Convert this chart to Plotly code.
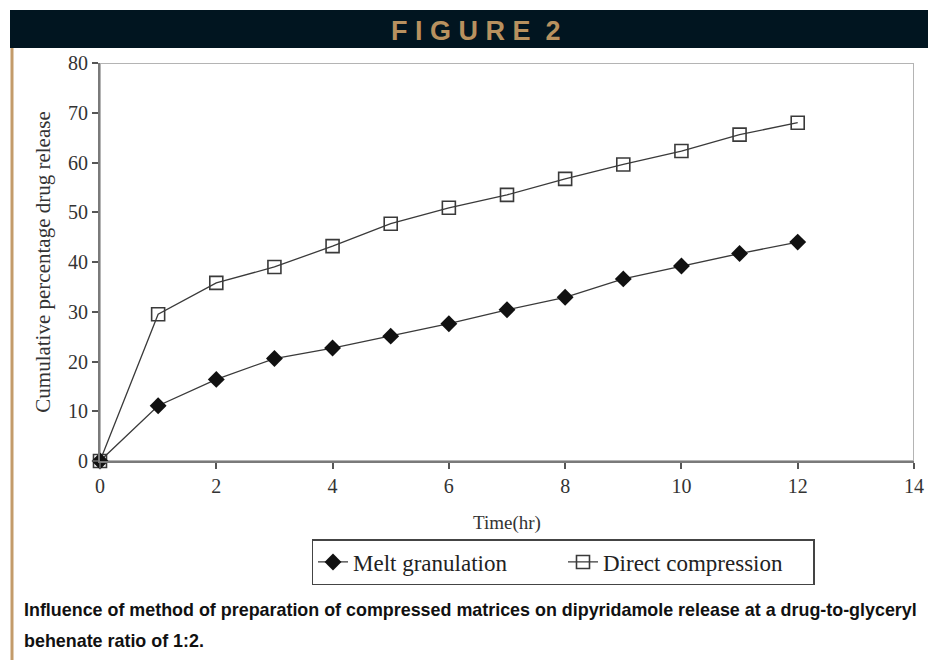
import plotly.graph_objects as go

# Release profile data
time_hr = [0, 1, 2, 3, 4, 5, 6, 7, 8, 9, 10, 11, 12]
melt_granulation = [0, 11.1, 16.4, 20.6, 22.7, 25.1, 27.6, 30.4, 32.9, 36.6, 39.2, 41.7, 44.0]
direct_compression = [0, 29.5, 35.8, 39.0, 43.2, 47.7, 50.9, 53.5, 56.7, 59.6, 62.3, 65.6, 68.0]

x_ticks = [0, 2, 4, 6, 8, 10, 12, 14]
y_ticks = [0, 10, 20, 30, 40, 50, 60, 70, 80]

# plot area in pixels
W, H = 928, 660
L, R, T, B = 100, 914, 63, 461


def px(x):
    return (x - L) / (R - L)


def py(y):
    return (B - y) / (B - T)


serif = "Liberation Serif, Times New Roman, serif"
sans = "Liberation Sans, Arial, sans-serif"

fig = go.Figure()

fig.add_trace(go.Scatter(
    x=time_hr, y=direct_compression, name="Direct compression",
    mode="lines+markers", cliponaxis=False, legendrank=2,
    line=dict(color="#3a3a3a", width=1.3),
    marker=dict(symbol="square-open", size=13, color="#3a3a3a",
                line=dict(color="#3a3a3a", width=1.6)),
))
fig.add_trace(go.Scatter(
    x=time_hr, y=melt_granulation, name="Melt granulation",
    mode="lines+markers", cliponaxis=False, legendrank=1,
    line=dict(color="#3a3a3a", width=1.3),
    marker=dict(symbol="diamond", size=13, color="#111111",
                line=dict(color="#111111", width=0)),
))

shapes = [
    # plot frame (lighter top/right edges)
    dict(type="rect", xref="x", yref="y", x0=0, x1=14, y0=0, y1=80,
         line=dict(color="#b4b4b4", width=2), layer="below"),
    # header bar
    dict(type="rect", xref="paper", yref="paper",
         x0=px(10), x1=px(928), y0=py(48), y1=py(10),
         fillcolor="#011520", line=dict(width=0)),
    # tan left rule
    dict(type="line", xref="paper", yref="paper",
         x0=px(12), x1=px(12), y0=py(48), y1=py(660),
         line=dict(color="#c39b6a", width=3)),
]

annotations = [
    dict(text="F I G U R E  2", xref="paper", yref="paper",
         x=px(476), y=py(31), xanchor="center", yanchor="middle",
         showarrow=False,
         font=dict(family=sans, size=27, color="#b8915f", weight="bold")),
    dict(text="Influence of method of preparation of compressed matrices on dipyridamole release at a drug-to-glyceryl",
         xref="paper", yref="paper", x=px(22), y=py(610),
         xanchor="left", yanchor="middle", showarrow=False,
         font=dict(family=sans, size=17.9, color="#111111", weight="bold")),
    dict(text="behenate ratio of 1:2.",
         xref="paper", yref="paper", x=px(22), y=py(641),
         xanchor="left", yanchor="middle", showarrow=False,
         font=dict(family=sans, size=17.9, color="#111111", weight="bold")),
]

fig.update_layout(
    width=W, height=H,
    margin=dict(l=L, r=W - R, t=T, b=H - B),
    paper_bgcolor="white", plot_bgcolor="white",
    showlegend=True,
    legend=dict(
        orientation="h", x=px(563), y=py(562),
        xanchor="center", yanchor="middle",
        bordercolor="#444444", borderwidth=1.5,
        font=dict(family=serif, size=23, color="#222222"),
        itemwidth=30, entrywidth=205, entrywidthmode="pixels",
    ),
    shapes=shapes,
    annotations=annotations,
    xaxis=dict(
        range=[0, 14], tickvals=x_ticks, showgrid=False, zeroline=False,
        automargin=False,
        showline=True, linecolor="#7a7a7a", linewidth=2,
        ticks="outside", ticklen=6, tickcolor="#555555", tickwidth=1.5,
        tickfont=dict(family=serif, size=20, color="#333333"),
        title=dict(text="Time(hr)", standoff=20,
                   font=dict(family=serif, size=19, color="#333333")),
    ),
    yaxis=dict(
        range=[0, 80], tickvals=y_ticks, showgrid=False, zeroline=False,
        automargin=False,
        showline=True, linecolor="#7a7a7a", linewidth=2,
        ticks="outside", ticklen=6, tickcolor="#555555", tickwidth=1.5,
        tickfont=dict(family=serif, size=20, color="#333333"),
        title=dict(text="Cumulative percentage drug release", standoff=12,
                   font=dict(family=serif, size=21, color="#333333")),
    ),
)

fig.write_html("out.html")
